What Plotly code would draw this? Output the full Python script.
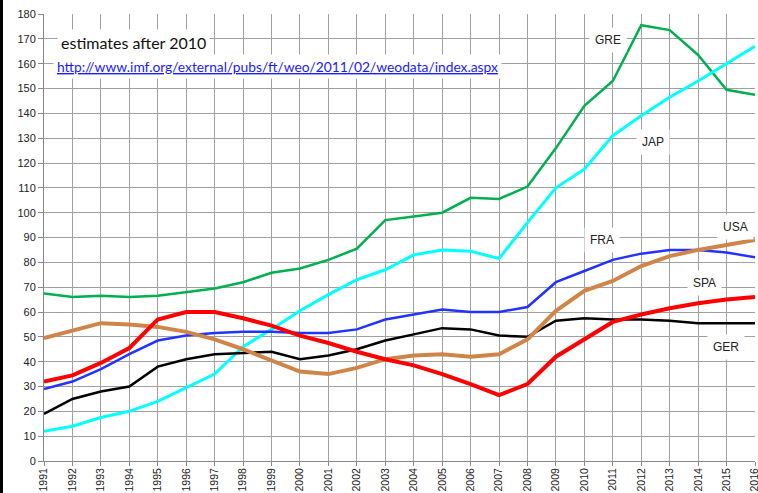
import plotly.graph_objects as go

years = list(range(1991, 2017))

gre = [67.5, 66, 66.5, 66, 66.5, 68, 69.5, 72, 75.8, 77.5, 81, 85.5, 97, 98.5, 100, 106, 105.5, 110.5, 126, 143, 153, 175.5, 173.5, 163.5, 149.5, 147.5]
jap = [12, 14, 17.5, 20, 24, 29.5, 35, 46, 53, 60.5, 67, 73, 77, 83, 85, 84.5, 81.5, 96, 110, 117.5, 131, 139, 146.5, 153, 160, 167]
ger = [19, 25, 28, 30, 38, 41, 43, 43.5, 44, 41, 42.5, 45, 48.5, 51, 53.5, 53, 50.5, 50, 56.5, 57.5, 57, 57, 56.5, 55.5, 55.5, 55.5]
fra = [29, 32, 37, 43, 48.5, 50.5, 51.5, 52, 52, 51.5, 51.5, 53, 57, 59, 61, 60, 60, 62, 72, 76.5, 81, 83.5, 85, 85, 84, 82]
usa = [49.5, 52.5, 55.5, 55, 54, 52, 49, 45, 40.5, 36, 35, 37.5, 41, 42.5, 43, 42, 43, 49, 60.5, 68.5, 72.5, 78.5, 82.5, 85, 87, 89]
spa = [32, 34.5, 39.5, 45.5, 57, 60, 60, 57.5, 54.5, 50.5, 47.5, 44, 41, 38.5, 35, 31, 26.5, 31, 42, 49, 56, 59, 61.5, 63.5, 65, 66]

series = [
    ("GRE", gre, "#00b050", 2.5),
    ("JAP", jap, "#00ffff", 3),
    ("GER", ger, "#000000", 2.5),
    ("FRA", fra, "#2233ff", 2.5),
    ("USA", usa, "#d08548", 4),
    ("SPA", spa, "#ff0000", 4),
]

# label positions (year, value)
labels = [
    ("GRE", 2010.83, 169.5),
    ("JAP", 2012.41, 128.5),
    ("FRA", 2010.62, 89),
    ("USA", 2015.33, 94.2),
    ("SPA", 2014.24, 71.7),
    ("GER", 2014.98, 45.9),
]

fig = go.Figure()
for name, vals, col, w in series:
    fig.add_trace(go.Scatter(x=years, y=vals, mode="lines", name=name,
                             line=dict(color=col, width=w), showlegend=False))

annotations = []
for txt, xv, yv in labels:
    annotations.append(dict(x=xv, y=yv, xref="x", yref="y", text=txt, showarrow=False,
                            font=dict(family="Liberation Sans, Arial", size=12, color="#222"),
                            bgcolor="white", borderpad=5))

annotations.append(dict(x=(57 - 44) / 711, y=(461 - 43) / 447, xref="paper", yref="paper",
                        xanchor="left", yanchor="middle", text="estimates after 2010",
                        showarrow=False, bgcolor="white", borderpad=3,
                        font=dict(family="Lato, Carlito, Calibri", size=16, color="#111")))
annotations.append(dict(x=(53 - 44) / 711, y=(461 - 66) / 447, xref="paper", yref="paper",
                        xanchor="left", yanchor="middle",
                        text="<u>http://www.imf.org/external/pubs/ft/weo/2011/02/weodata/index.aspx</u>",
                        showarrow=False, bgcolor="white", borderpad=3,
                        font=dict(family="Lato, Carlito, Calibri", size=13.8, color="#1a1aff")))

fig.update_layout(
    width=758, height=493,
    margin=dict(l=44, r=3, t=14, b=32, pad=0),
    paper_bgcolor="white", plot_bgcolor="white",
    annotations=annotations,
    shapes=[dict(type="rect", xref="paper", yref="paper",
                 x0=-44 / 711, x1=-41 / 711, y0=-32 / 447, y1=1 + 14 / 447,
                 fillcolor="black", line=dict(width=0), layer="above")],
    xaxis=dict(range=[1991, 2016], dtick=1, tick0=1991, showgrid=True, gridcolor="#a0a0a0",
               gridwidth=1, showline=True, linecolor="#888", linewidth=1,
               ticks="outside", ticklen=4, tickcolor="#888", tickangle=-90,
               ticklabelstandoff=-2, ticklabeloverflow="allow",
               tickfont=dict(family="Liberation Sans, Arial", size=10.5, color="#222"),
               zeroline=False, fixedrange=True, automargin=False),
    yaxis=dict(range=[0, 180], dtick=10, tick0=0, showgrid=True, gridcolor="#a0a0a0",
               gridwidth=1, showline=True, linecolor="#888", linewidth=1,
               ticks="outside", ticklen=5, tickcolor="#888",
               tickfont=dict(family="Liberation Sans, Arial", size=11, color="#222"),
               zeroline=False, fixedrange=True, automargin=False),
)

fig.write_html("out.html", config={"displayModeBar": False},
               post_script="document.body.style.margin='0';document.body.style.overflow='hidden';")
